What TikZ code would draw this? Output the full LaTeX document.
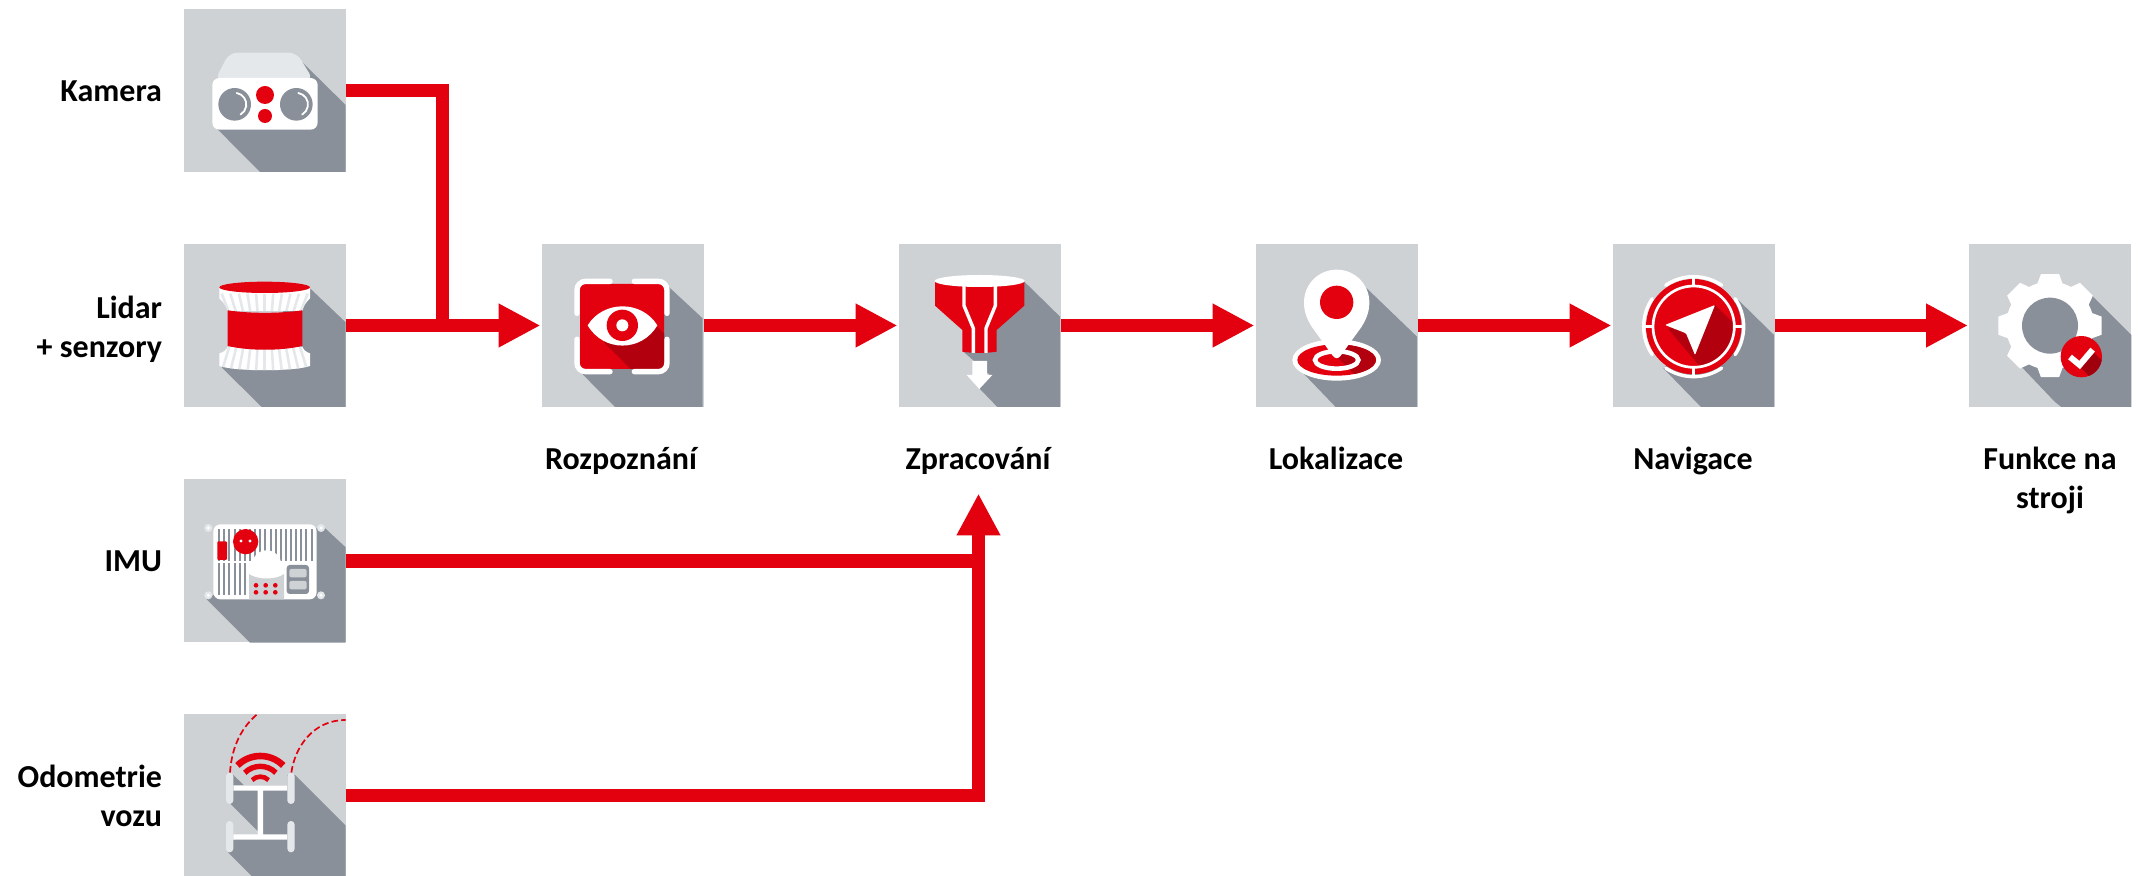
\documentclass[tikz,border=0pt]{standalone}
\usepackage{fontspec}
\setmainfont{Carlito}
\usetikzlibrary{arrows.meta}
\definecolor{iconbg}{HTML}{CFD2D5}
\definecolor{slate}{HTML}{89909A}
\definecolor{brand}{HTML}{E3000F}
\definecolor{deep}{HTML}{B2000F}
\definecolor{pale}{HTML}{E4E8EB}
\tikzset{
 iconbox/.style={fill=iconbg,minimum width=81pt,minimum height=81.5pt,inner sep=0,outer sep=0},
 flow/.style={draw=brand,line width=6.75pt,line join=miter},
 flowarrow/.style={flow,-{Triangle[length=21pt,width=20.5pt]},shorten >=0.5pt},
 lbl/.style={font=\bfseries\fontsize{16pt}{19.5pt}\selectfont,inner sep=0,outer sep=0},
 lblr/.style={lbl,align=right,anchor=east},
 lblc/.style={lbl,align=center,anchor=north},
 z/.style={shift={(#1)},scale=1/3},
 longshadow/.style={fill=slate},
}
\begin{document}
\begin{tikzpicture}[x=0.5pt,y=-0.5pt]
\useasboundingbox (0,0) rectangle (2138,876);
% icon boxes
\node[iconbox] (kamera) at (264.5,90.5) {};
\node[iconbox] (lidar) at (264.5,325.5) {};
\node[iconbox] (imu) at (264.5,561) {};
\node[iconbox] (odo) at (264.5,795.5) {};
\node[iconbox] (rozp) at (622.5,325.5) {};
\node[iconbox] (zprac) at (979.5,325.5) {};
\node[iconbox] (loka) at (1336.5,325.5) {};
\node[iconbox] (navi) at (1693.5,325.5) {};
\node[iconbox] (funk) at (2050,325.5) {};
% labels
\node[lblr] (tk) at (162,91) {Kamera};
\node[lblr] (tl) at (162,329) {Lidar\\+ senzory};
\node[lblr] (ti) at (162,561) {IMU};
\node[lblr] (to) at (162,796) {Odometrie\\vozu};
\node[lblc] (tr) at (621,447) {Rozpoznání};
\node[lblc] (tz) at (978,447) {Zpracování};
\node[lblc] (tlo) at (1336,447) {Lokalizace};
\node[lblc] (tn) at (1693,447) {Navigace};
\node[lblc] (tf) at (2050,447) {Funkce na\\stroji};
% connectors
\coordinate (j1) at (442.5,325.5);
\coordinate (j2) at (978.5,561);
\coordinate (j3) at (978.5,493.5);
\draw[flow] (kamera.east) -- (kamera.east -| j1) -- (j1);
\draw[flowarrow] (lidar.east) -- (rozp.west);
\draw[flowarrow] (rozp.east) -- (zprac.west);
\draw[flowarrow] (zprac.east) -- (loka.west);
\draw[flowarrow] (loka.east) -- (navi.west);
\draw[flowarrow] (navi.east) -- (funk.west);
\draw[flow] (imu.east) -- (j2);
\draw[flowarrow,shorten >=0pt] (odo.east) -- (odo.east -| j3) -- (j3);
% --- Kamera
\begin{scope}[z={170,0}]
\fill[longshadow] (395,185) -- (527,315) -- (527,516) -- (270,516) -- (135,380) -- cycle;
\fill[pale,rounded corners=4pt] (135,240) -- (178,158) -- (380,158) -- (430,240) -- cycle;
\fill[white,rounded corners=3.5pt] (127,234) rectangle (443,389);
\fill[slate] (194,313) circle (49) (379,313) circle (49);
\draw[white,line width=0.9pt,line cap=round] (200,279) arc[start angle=-80,end angle=60,radius=35];
\draw[white,line width=0.9pt,line cap=round] (385,279) arc[start angle=-80,end angle=60,radius=35];
\fill[brand] (285,285) circle (27) (285,348) circle (21);
\end{scope}
% --- Lidar
\begin{scope}[z={170,235}]
\fill[longshadow] (418,158) -- (527,262) -- (527,516) -- (275,516) -- (155,397) -- cycle;
\begin{scope}
\clip (148,158) -- (420,158) -- (420,190) .. controls (405,205) and (400,215) .. (397,228) -- (173,228) .. controls (170,215) and (163,205) .. (148,190) -- cycle;
\fill[white] (140,150) rectangle (430,240);
\foreach \k in {-10,-8,...,10}{
 \draw[pale,line width=1.3pt] ({284+\k*12.9},176) -- ({284+\k*10.6},235);
}
\end{scope}
\begin{scope}
\clip (173,335) -- (397,335) .. controls (400,345) and (410,352) .. (420,355) -- (420,393) .. controls (370,410) and (200,410) .. (148,393) -- (148,355) .. controls (160,352) and (170,345) .. (173,335) -- cycle;
\fill[white] (140,330) rectangle (430,415);
\foreach \k in {-10,-8,...,10}{
 \draw[pale,line width=1.3pt] ({284+\k*10.6},335) -- ({284+\k*12.9},410);
}
\end{scope}
\fill[brand] (284,157) ellipse (136 and 17);
\fill[brand] (173,226) .. controls (240,236) and (330,236) .. (397,226) -- (397,333) .. controls (330,348) and (240,348) .. (173,333) -- cycle;
\end{scope}
% --- IMU
\begin{scope}[z={170,470}]
\fill[longshadow] (455,165) -- (527,232) -- (527,518) -- (240,518) -- (110,388) -- cycle;
\foreach \p in {(115,174),(453,174),(115,376),(453,376)}{
 \fill[pale] \p circle (12);
 \fill[white] \p circle (5);
}
\fill[white,rounded corners=3.5pt] (130,163) rectangle (440,388);
\foreach \i in {0,...,18}{
 \fill[slate] ({144.5+\i*15.4},178) rectangle ({150.5+\i*15.4},272);
}
\foreach \i in {0,...,5}{
 \fill[slate] ({144.5+\i*15.4},280) rectangle ({150.5+\i*15.4},375);
}
\fill[white] (290,285) circle (44);
\fill[white] (232,272) rectangle (345,388);
\fill[iconbg] (237,312) .. controls (260,330) and (320,330) .. (342,312) -- (342,388) -- (237,388) -- cycle;
\foreach \x in {258,287,316}{\fill[brand] (\x,346) circle (7) (\x,367) circle (7);}
\fill[brand] (227,215) circle (38);
\fill[white] (213,213) circle (5) (240,213) circle (5);
\fill[brand,rounded corners=0.5pt] (142,214) rectangle (171,270);
\fill[slate,rounded corners=1.5pt] (350,285) rectangle (417,372);
\fill[iconbg,rounded corners=1pt] (358,297) rectangle (410,322);
\fill[iconbg,rounded corners=1pt] (358,333) rectangle (410,358);
\end{scope}
% --- Odometrie
\begin{scope}[z={170,700}]
\fill[longshadow] (190,225) -- (222,256) -- (352,256) -- (352,225) -- (375,225) -- (527,377) -- (527,528) -- (245,528) -- (175,458) -- (190,419) -- (262,405) -- (265,395) -- (178,308) -- (178,228) -- cycle;
\draw[brand,line width=0.85pt,dash pattern=on 3.3pt off 1.6pt] (180,218) .. controls (185,140) and (215,80) .. (265,40);
\draw[brand,line width=0.85pt,dash pattern=on 3.3pt off 1.6pt] (364,218) .. controls (375,140) and (430,60) .. (527,60);
\fill[white] (190,256) rectangle (352,272) (190,403) rectangle (352,419) (263,272) rectangle (279,403);
\foreach \x/\y in {168/218,352/218,168/363,352/363}{
 \fill[pale,rounded corners=1.8pt] (\x,\y) rectangle (\x+22,\y+94);
}
\draw[brand,line width=3.3pt] (271,265) ++(225:97) arc[start angle=225,end angle=315,radius=97];
\draw[brand,line width=2.7pt] (271,265) ++(225:66) arc[start angle=225,end angle=315,radius=66];
\draw[brand,line width=2.3pt] (271,265) ++(225:35) arc[start angle=225,end angle=315,radius=35];
\end{scope}
% --- Rozpoznani
\begin{scope}[z={530,235}]
\fill[longshadow] (410,150) -- (518,250) -- (518,516) -- (255,516) -- (150,410) -- cycle;
\fill[brand,rounded corners=1.7pt] (150,147) rectangle (402,402);
\fill[deep] (222,322) -- (302,402) -- (390,402) -- (402,390) -- (402,295) -- (380,275) -- cycle;
\begin{scope}[white,line width=2.7pt,line cap=round]
\draw (141,235) -- (141,165) arc[start angle=180,end angle=270,radius=26] -- (240,139);
\draw (411,235) -- (411,165) arc[start angle=0,end angle=-90,radius=26] -- (313,139);
\draw (141,313) -- (141,384) arc[start angle=180,end angle=90,radius=26] -- (240,410);
\draw (411,313) -- (411,384) arc[start angle=0,end angle=90,radius=26] -- (313,410);
\end{scope}
\fill[white] (173,271) .. controls (220,195) and (335,195) .. (382,271) .. controls (335,352) and (220,352) .. (173,271) -- cycle;
\fill[brand] (277,271) circle (47);
\fill[white] (277,271) circle (18);
\end{scope}
% --- Zpracovani
\begin{scope}[z={890,235}]
\fill[longshadow] (403,140) -- (510,245) -- (510,516) -- (322,516) -- (268,460) -- (300,420) -- (220,350) -- cycle;
\fill[brand] (135,140) -- (135,212) -- (217,285) -- (217,350) .. controls (245,355) and (290,355) .. (320,350) -- (320,285) -- (403,212) -- (403,140) -- cycle;
\draw[white,line width=1.7pt] (222,150) -- (222,212) -- (250,280) -- (250,354);
\draw[white,line width=1.7pt] (316,150) -- (316,212) -- (288,280) -- (288,354);
\fill[white] (269,138) ellipse (135 and 18);
\fill[white] (247,378) -- (291,378) -- (291,420) -- (307,420) -- (268,462) -- (230,420) -- (247,420) -- cycle;
\end{scope}
% --- Lokalizace
\begin{scope}[z={1245,235}]
\fill[longshadow] (355,150) -- (516,305) -- (516,516) -- (272,516) -- (175,415) -- cycle;
\fill[white] (275,375) ellipse (133 and 62);
\fill[brand] (275,375) ellipse (118 and 47);
\begin{scope}
\clip (275,375) ellipse (118 and 47);
\fill[deep] (275,365) -- (335,425) -- (420,425) -- (420,300) -- (300,300) -- cycle;
\end{scope}
\draw[white,line width=2.3pt] (275,375) ellipse (65 and 26);
\fill[white] (275,104) .. controls (330,104) and (373,148) .. (373,202) .. controls (373,230) and (365,250) .. (350,275) -- (287,362) .. controls (280,372) and (270,372) .. (263,362) -- (200,275) .. controls (185,250) and (177,230) .. (177,202) .. controls (177,148) and (220,104) .. (275,104) -- cycle;
\fill[brand] (275,202) circle (50);
\end{scope}
% --- Navigace
\begin{scope}[z={1600,235}]
\fill[longshadow] (415,195) -- (522,300) -- (522,516) -- (303,516) -- (190,400) -- cycle;
\fill[brand] (281,275) circle (143);
\begin{scope}
\clip (281,275) circle (118);
\fill[deep] (345,210) -- (430,295) -- (430,430) -- (330,430) -- (205,282) -- cycle;
\end{scope}
\draw[white,line width=1.35pt] (281,275) circle (122);
\foreach \a in {0,90,180,270}{
 \draw[white,line width=1.2pt] (281,275) ++(\a:120) -- ++(\a:30);
}
\foreach \a/\b in {-34/34,56/124,146/214,236/304}{
 \draw[white,line width=1.7pt,line cap=round] (281,275) ++(\a:150) arc[start angle=\a,end angle=\b,radius=150];
}
\fill[white,rounded corners=0.5pt] (195,270) -- (345,210) -- (285,360) -- (258,295) -- cycle;
\end{scope}
% --- Funkce
\begin{scope}[z={1938,235}]
\fill[longshadow] (460,180) -- (580,300) -- (580,516) -- (370,516) -- (350,500) -- (250,395) -- cycle;
\fill[white] (336,272) circle (132);
\foreach \a in {0,45,...,315}{
 \fill[white] ({336+125*cos(\a-19)},{272+125*sin(\a-19)}) -- ({336+157*cos(\a-10)},{272+157*sin(\a-10)}) -- ({336+157*cos(\a+10)},{272+157*sin(\a+10)}) -- ({336+125*cos(\a+19)},{272+125*sin(\a+19)}) -- cycle;
}
\fill[slate] (336,272) circle (84);
\fill[brand] (430,365) circle (62);
\begin{scope}
\clip (430,365) circle (62);
\fill[deep!90!black] (425,395) -- (465,350) -- (510,395) -- (510,440) -- (470,440) -- cycle;
\end{scope}
\draw[white,line width=3pt] (396,366) -- (425,390) -- (464,344);
\end{scope}
\end{tikzpicture}
\end{document}
